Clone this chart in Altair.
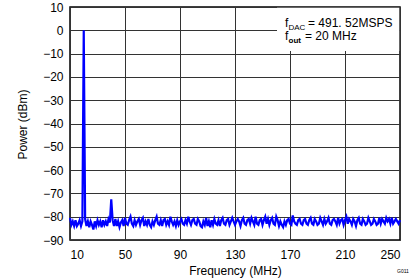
import altair as alt
import pandas as pd

# Spectrum values, 1 MHz steps from 10 MHz to 250 MHz
power_10_19 = [-80.5, -83.5, -82, -84, -81.5, -84, -83, -81.5, -84, -82]
power_20 = [0]
power_21_39 = [-81, -84, -82, -84.5, -82, -83.5, -85.5, -82, -84, -81.5,
               -83.5, -82, -84.5, -81.5, -83.5, -82, -84, -81, -82.5]
power_40 = [-72.5]
power_41_60 = [-81.5, -84, -81, -84, -82, -84.5, -82.5, -81.5, -84, -80.5,
               -83, -83.5, -81.5, -80, -83, -84, -81.5, -83.5, -82, -81]
power_61_100 = [-83.5, -81.5, -80.5, -84, -82, -83.5, -81, -83.5, -84.5, -82,
                -83.5, -81.5, -80, -83, -83.5, -81.5, -84, -81.5, -81, -83.5,
                -82, -83.5, -80, -82, -83.5, -82, -84, -81.5, -83.5, -82,
                -81, -83, -83.5, -81.5, -83, -80, -82, -83.5, -81.5, -81]
power_101_140 = [-83, -83.5, -81, -82, -84, -84.5, -82, -83.5, -80.5, -84,
                 -82, -84.5, -81.5, -83.5, -81, -83, -83.5, -81.5, -84, -81.5,
                 -80.5, -83, -83.5, -81.5, -81, -83.5, -82, -80.5, -82, -83.5,
                 -82, -81, -82, -84, -81.5, -80.5, -83, -83.5, -81.5, -81]
power_141_180 = [-83, -80.5, -82, -83.5, -80, -83, -83.5, -81.5, -81, -83.5,
                 -81.5, -80, -83, -81, -83.5, -81.5, -80.5, -83, -83.5, -80,
                 -81.5, -84, -82, -83.5, -84.5, -82, -83.5, -81.5, -81, -83,
                 -83.5, -79.5, -82, -83, -83.5, -81.5, -81, -83, -83.5, -81.5]
power_181_220 = [-81, -83, -83.5, -81.5, -80.5, -83, -83.5, -81, -82, -83.5,
                 -83, -80.5, -82, -83.5, -81, -83, -82, -80.5, -83, -83.5,
                 -81.5, -81, -82, -83.5, -80.5, -83, -81.5, -81, -83.5, -81.5,
                 -80, -83, -81, -82, -83.5, -81, -82, -84, -81.5, -80.5]
power_221_250 = [-83, -83.5, -81, -82, -83.5, -83, -80.5, -82, -83.5, -83,
                 -81, -82, -83.5, -83, -80.5, -83, -81, -82, -83, -80.5,
                 -82, -81, -83, -80.5, -83, -82, -81, -82, -83, -81.5]

power = (power_10_19 + power_20 + power_21_39 + power_40 + power_41_60 +
         power_61_100 + power_101_140 + power_141_180 + power_181_220 +
         power_221_250)
freq = [10 + i for i in range(len(power))]

x_ticks = [10, 50, 90, 130, 170, 210, 250]
y_ticks = [-90, -80, -70, -60, -50, -40, -30, -20, -10, 0, 10]

df = pd.DataFrame({"freq": freq, "power": power})

FONT = "Liberation Sans"

x_enc = alt.X("freq:Q",
              scale=alt.Scale(domain=[10, 250], nice=False, zero=False),
              axis=alt.Axis(values=x_ticks, title="Frequency (MHz)",
                            titleX=165, titleY=30, titleBaseline="middle",
                            titleAlign="center"))
y_enc = alt.Y("power:Q",
              scale=alt.Scale(domain=[-90, 10], nice=False, zero=False),
              axis=alt.Axis(values=y_ticks, title="Power (dBm)",
                            titleX=-48, titleY=117, titleAngle=270,
                            titleBaseline="middle", titleAlign="center"))

line = alt.Chart(df).mark_line(color="#0000FF", strokeWidth=2.2,
                               strokeJoin="miter").encode(x=x_enc, y=y_enc)

box = alt.Chart(pd.DataFrame({"a": [0]})).mark_rect(color="white").encode(
    x=alt.value(207), x2=alt.value(329.2), y=alt.value(0.8), y2=alt.value(44))

def txt(s, x, y, size=12, weight="normal"):
    return alt.Chart(pd.DataFrame({"t": [s]})).mark_text(
        align="left", baseline="alphabetic", font=FONT, fontSize=size,
        fontWeight=weight, color="black").encode(
        text="t:N", x=alt.value(x), y=alt.value(y))

annot = [
    txt("f", 215, 20),
    txt("DAC", 218.5, 23, size=8),
    txt("= 491. 52MSPS", 238, 20),
    txt("f", 215, 33),
    txt("out", 218.5, 36, size=8, weight="bold"),
    txt("= 20 MHz", 235, 33),
    txt("G011", 327, 266, size=5),
]

chart = alt.layer(line, box, *annot).properties(
    width=330, height=233,
    autosize=alt.AutoSizeParams(type="none"),
    padding={"left": 70, "top": 7, "right": 19, "bottom": 39},
).configure_view(stroke="black", strokeWidth=1.5).configure_axis(
    grid=True, gridColor="#333333", gridWidth=1, domain=False, ticks=False,
    labelFont=FONT, labelFontSize=12, labelColor="black", labelPadding=7,
    titleFont=FONT, titleFontSize=12, titleColor="black", titleFontWeight="normal",
).configure_axisX(labelPadding=9)

chart.save("out.html", embed_options={"renderer": "svg", "actions": False})
